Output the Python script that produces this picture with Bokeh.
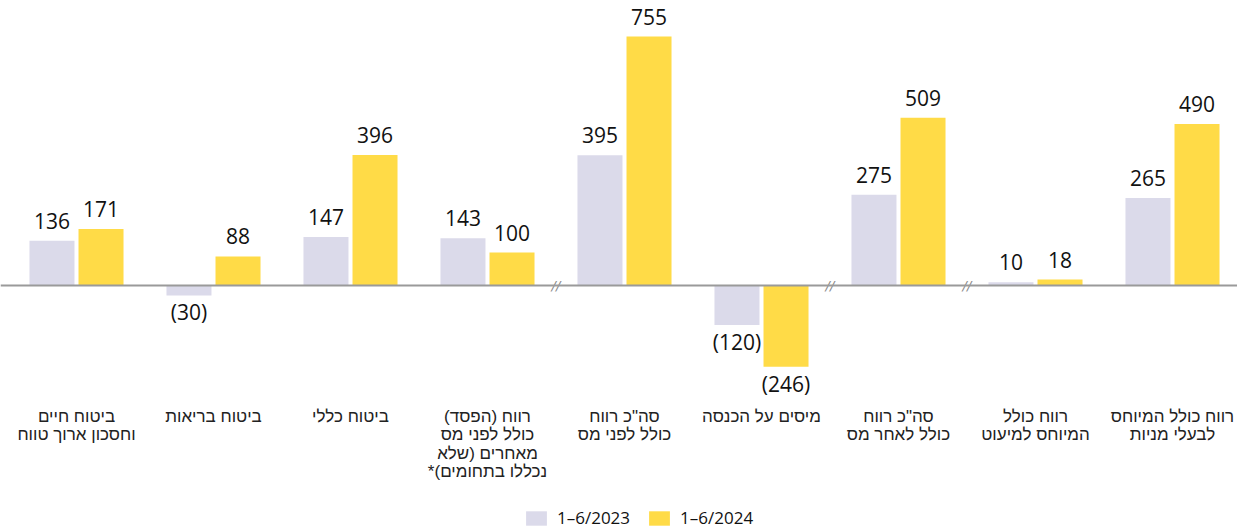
from bokeh.plotting import figure
from bokeh.models import ColumnDataSource, Span, Legend, LegendItem, Range1d
from bokeh.core.properties import value
from bokeh.embed import file_html
from bokeh.resources import INLINE

categories = [
    "ביטוח חיים\nוחסכון ארוך טווח",
    "ביטוח בריאות",
    "ביטוח כללי",
    "רווח (הפסד)\nכולל לפני מס\nמאחרים (שלא\nנכללו בתחומים)*",
    "סה\"כ רווח\nכולל לפני מס",
    "מיסים על הכנסה",
    "סה\"כ רווח\nכולל לאחר מס",
    "רווח כולל\nהמיוחס למיעוט",
    "רווח כולל המיוחס\nלבעלי מניות",
]
vals_2023 = [136, -30, 147, 143, 395, -120, 275, 10, 265]
vals_2024 = [171, 88, 396, 100, 755, -246, 509, 18, 490]
series_names = ["1–6/2023", "1–6/2024"]
break_after = [3, 5, 6]

COL_A = "#dbdaea"
COL_B = "#ffdb47"
NUM_FONT = "Open Sans"
HEB_FONT = "Liberation Sans"

RLM = "\u200f"


def rtl(s):
    return "\n".join(RLM + line + RLM for line in s.split("\n"))


def fmt(v):
    return f"({abs(v)})" if v < 0 else f"{v}"


n = len(categories)
xs = list(range(n))
OFF = 0.179
W = 0.3285

p = figure(width=1237, height=530, output_backend="svg", toolbar_location=None,
           x_axis_location=None, y_axis_location=None,
           min_border_left=0, min_border_right=0, min_border_top=0, min_border_bottom=0)
p.x_range = Range1d(-0.5547, 8.4745)
p.y_range = Range1d(-742.9, 864.2)
p.outline_line_color = None
p.grid.visible = False
p.background_fill_color = "white"

src_a = ColumnDataSource(dict(x=[x - OFF for x in xs], top=vals_2023))
src_b = ColumnDataSource(dict(x=[x + OFF for x in xs], top=vals_2024))

ra = p.vbar(x="x", top="top", bottom=0, width=W, source=src_a,
            fill_color=COL_A, line_color=None)
rb = p.vbar(x="x", top="top", bottom=0, width=W, source=src_b,
            fill_color=COL_B, line_color=None)

p.add_layout(Span(location=0, dimension="width", line_color="#9a9a9a", line_width=2))

# value labels
for vals, xo in ((vals_2023, -OFF), (vals_2024, OFF)):
    pos = [(x + xo, v, fmt(v)) for x, v in zip(xs, vals) if v >= 0]
    neg = [(x + xo, v, fmt(v)) for x, v in zip(xs, vals) if v < 0]
    if pos:
        s = ColumnDataSource(dict(x=[a[0] for a in pos], y=[a[1] for a in pos], t=[a[2] for a in pos]))
        p.text(x="x", y="y", text="t", source=s, text_align="center",
               text_baseline="alphabetic", y_offset=-20, text_font=value(NUM_FONT),
               text_font_size="21px", text_color="#111111")
    if neg:
        s = ColumnDataSource(dict(x=[a[0] for a in neg], y=[a[1] for a in neg], t=[a[2] for a in neg]))
        p.text(x="x", y="y", text="t", source=s, text_align="center",
               text_baseline="alphabetic", y_offset=17, text_font=value(NUM_FONT),
               text_font_size="21px", text_color="#111111")

# category labels
cs = ColumnDataSource(dict(x=xs, y=[0] * n, t=[rtl(c) for c in categories]))
p.text(x="x", y="y", text="t", source=cs, text_align="center", text_baseline="top",
       y_offset=121, text_font=value(HEB_FONT), text_font_size="17px",
       text_line_height=0.98, text_color="#222222")

# axis break marks
bs = ColumnDataSource(dict(x=[b + 0.5 for b in break_after], y=[0] * len(break_after),
                           t=["//"] * len(break_after)))
p.text(x="x", y="y", text="t", source=bs, text_align="center", text_baseline="middle",
       text_font=value("DejaVu Sans"), text_font_size="13px", text_font_style="italic",
       text_color="#888888")

legend = Legend(items=[LegendItem(label=series_names[0], renderers=[ra]),
                       LegendItem(label=series_names[1], renderers=[rb])],
                orientation="horizontal", location=(523, 1))
legend.glyph_width = 26
legend.glyph_height = 18
legend.label_standoff = 8
legend.spacing = 16
legend.padding = 0
legend.margin = 0
legend.border_line_color = None
legend.background_fill_alpha = 0
legend.label_text_font = NUM_FONT
legend.label_text_font_size = "17px"
legend.label_text_color = "#111111"
legend.label_height = 18
p.add_layout(legend, "center")

open("out.html", "w").write(file_html(p, INLINE))
